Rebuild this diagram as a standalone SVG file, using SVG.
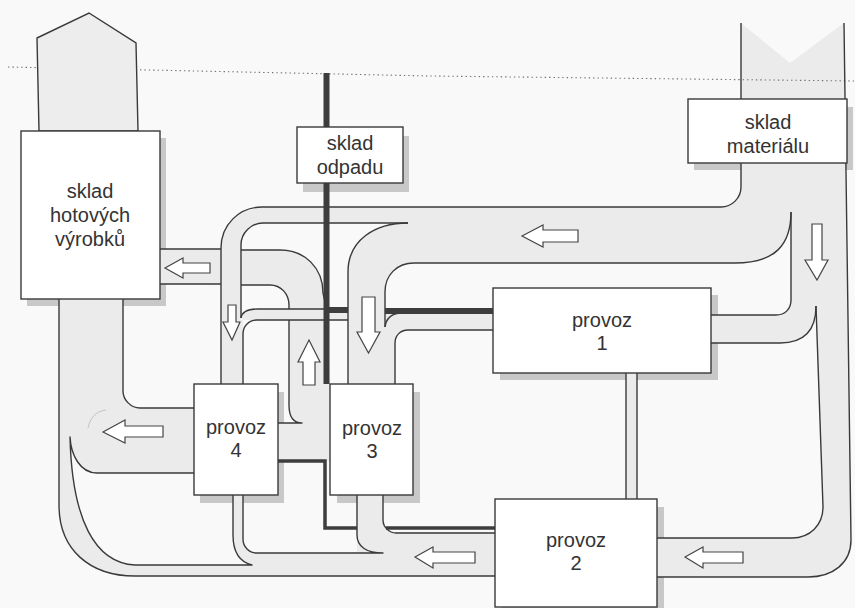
<svg xmlns="http://www.w3.org/2000/svg" width="855" height="608" viewBox="0 0 855 608">
<style>
.band{fill:#ebebeb;stroke:none}
.ln{fill:none;stroke:#3a3a3a;stroke-width:1.4;stroke-linejoin:round}
.dk{fill:none;stroke:#3d3d3d}
.arr{fill:#fff;stroke:#444;stroke-width:1.2;stroke-linejoin:miter}
.sh{fill:#c8c8c8}
.box{fill:#fff;stroke:#3a3a3a;stroke-width:1.4}
.t{font-family:"Liberation Sans",Arial,Helvetica,sans-serif;font-size:20px;fill:#333;text-anchor:middle}
</style>
<rect x="0" y="0" width="855" height="608" fill="#f9f9f9"/>
<g id="shadows">
<rect class="sh" x="27" y="138" width="139" height="168"/>
<rect class="sh" x="303" y="136" width="106" height="56"/>
<rect class="sh" x="694" y="107" width="159" height="63"/>
<rect class="sh" x="500" y="295" width="218" height="85"/>
<rect class="sh" x="502" y="507" width="162" height="108"/>
<rect class="sh" x="337" y="392" width="83" height="111"/>
<rect class="sh" x="200" y="392" width="84" height="111"/>
</g>
<g id="connectors">
<path class="band" d="M741,23 L790,63 L844,23 L846,212 L791,212 C791,245 775,263 735,263 L414,263 C397,263 385,275 385,292 L385,330 L395,330 L395,384 L348,384 L348,272 C348,240 375,223 408,223 L263,223 C251,223 241,233 241,245 L241,320 L243,320 L243,384 L221,384 L221,248 C221,225 239,207 262,207 L721,207 C732,207 741,198 741,187 Z"/>
<path class="band" d="M791,212 L846,212 L851,540 C851,563 833,577 808,577 L657,577 L657,538 L792,538 C810,538 823,525 823,507 L816,306 C816,330 805,343 780,343 L711,343 L711,315 L776,315 C785,315 791,309 791,300 Z"/>
<path class="band" d="M160,249 L280,250 C305,250 323,268 323,293 L326,300 L330,384 L330,461 L278,461 L278,423 L302,423 C294,423 289,417 289,405 L289,305 C289,294 281,285 270,285 L160,284 Z"/>
<path class="band" d="M241,318 C242,311 248,309 258,309 L493,309 L493,330 L408,330 C400,330 395,336 395,343 L385,343 L385,320 L243,320 Z"/>
<rect class="band" x="626" y="373" width="11" height="126"/>
<path class="band" d="M495,532 L396,532 C389,532 383,526 383,519 L383,495 L357,495 L357,553 L257,553 C249,553 243,547 243,539 L243,495 L233,495 L233,535 C233,553 240,562 252,565 L135,565 C95,563 72,520 70,437 C71,455 80,473 97,473 L194,473 L194,408 L140,408 C131,408 123,400 123,391 L123,299 L59,299 L59,505 C59,550 90,576 135,576 L495,576 Z"/>
<polyline points="8,67 430,76 855,81" fill="none" stroke="#707070" stroke-width="1.1" stroke-dasharray="1.4 3"/>
<path class="ln" d="M741,23 V187 C741,198 732,207 721,207 H262 C239,207 221,225 221,248 V384"/>
<path class="ln" d="M844,23 L851,540 C851,563 833,577 808,577 H657"/>
<path class="ln" d="M791,212 C791,245 775,263 735,263 H414 C397,263 385,275 385,292 V327"/>
<path class="ln" d="M791,212 V300 C791,309 785,315 776,315 H711"/>
<path class="ln" d="M816,306 C816,330 805,343 780,343 H711"/>
<path class="ln" d="M816,306 L823,507 C823,525 810,538 792,538 H657"/>
<path class="ln" d="M408,223 H263 C251,223 241,233 241,245 V318"/>
<path class="ln" d="M408,223 C375,223 348,240 348,272 V384"/>
<path class="ln" d="M160,249 H221 M241,250 H280 C305,250 323,268 323,293 L325,302"/>
<path class="ln" d="M160,284 H221 M241,285 H270 C281,285 289,294 289,305 V309 M289,320 V405 C289,417 294,423 302,423 H278"/>
<path class="ln" d="M241,318 C242,311 248,309 258,309 H325"/>
<path class="ln" d="M348,320 H257 C249,320 243,326 243,334 V384"/>
<path class="ln" d="M385,327 C386,319 391,314 400,313"/>
<path class="ln" d="M493,330 H408 C400,330 395,336 395,343 V384"/>
<path class="ln" d="M495,533 H396 C389,533 383,527 383,520 V495"/>
<path class="ln" d="M357,495 V535 C357,547 367,553 383,553 H257 C249,553 243,547 243,539 V495"/>
<path class="ln" d="M233,495 V535 C233,553 240,562 252,565 H135 C95,563 72,520 70,437 C71,455 80,473 97,473 H194"/>
<path class="ln" d="M194,408 H140 C131,408 123,400 123,391 V299"/>
<path class="ln" d="M59,299 V505 C59,550 90,576 135,576 H495"/>
<path class="ln" d="M626,373 V499 M637,373 V499"/>
<path d="M88,428 C90,418 96,411 106,410" fill="none" stroke="#c2c2c2" stroke-width="1"/>
<path class="dk" stroke-width="6" d="M326.5,73 V384"/>
<path class="dk" stroke-width="6" d="M326,310 H348 M385,311 H493"/>
<path class="dk" stroke-width="3.5" d="M278,461 H325 V528 H357 M386,528 H495"/>
<path class="arr" d="M165,268 L183,258 V263 H210 V273 H183 V278 Z"/>
<path class="arr" d="M522,236 L543,225 V230 H578 V242 H543 V247 Z"/>
<path class="arr" d="M812,224 H822 V260 H828 L817,280 L805,260 H812 Z"/>
<path class="arr" d="M228,305 H236 V322 H240 L232,340 L223,322 H228 Z"/>
<path class="arr" d="M309,340 L320,362 H315 V385 H303 V362 H298 Z"/>
<path class="arr" d="M362,297 H375 V332 H380 L368.5,353 L357,332 H362 Z"/>
<path class="arr" d="M103,432 L125,420 V426 H163 V437 H125 V443 Z"/>
<path class="arr" d="M415,557 L433,547 V552 H475 V563 H433 V568 Z"/>
<path class="arr" d="M685,557 L703,547 V552 H743 V563 H703 V568 Z"/>
</g>
<g id="sklad-hotovych">
<polygon points="37,38 89,13 136,43 138,131 39,131" fill="#ededed" stroke="#3a3a3a" stroke-width="1.4"/>
<rect class="box" x="21" y="131" width="139" height="168"/>
<text class="t" x="90" y="198">sklad</text>
<text class="t" x="90" y="222">hotových</text>
<text class="t" x="90" y="246">výrobků</text>
</g>
<g id="sklad-odpadu">
<rect class="box" x="297" y="127" width="106" height="56"/>
<text class="t" x="350" y="150">sklad</text>
<text class="t" x="350" y="174">odpadu</text>
</g>
<g id="sklad-materialu">
<rect class="box" x="688" y="99" width="159" height="64"/>
<text class="t" x="768" y="129">sklad</text>
<text class="t" x="768" y="153">materiálu</text>
</g>
<g id="provoz1">
<rect class="box" x="493" y="288" width="218" height="85"/>
<text class="t" x="602" y="327">provoz</text>
<text class="t" x="602" y="350">1</text>
</g>
<g id="provoz2">
<rect class="box" x="495" y="499" width="162" height="108"/>
<text class="t" x="576" y="547">provoz</text>
<text class="t" x="576" y="570">2</text>
</g>
<g id="provoz3">
<rect class="box" x="330" y="384" width="83" height="111"/>
<text class="t" x="372" y="435">provoz</text>
<text class="t" x="372" y="458">3</text>
</g>
<g id="provoz4">
<rect class="box" x="194" y="384" width="84" height="111"/>
<text class="t" x="236" y="434">provoz</text>
<text class="t" x="236" y="457">4</text>
</g>
</svg>
